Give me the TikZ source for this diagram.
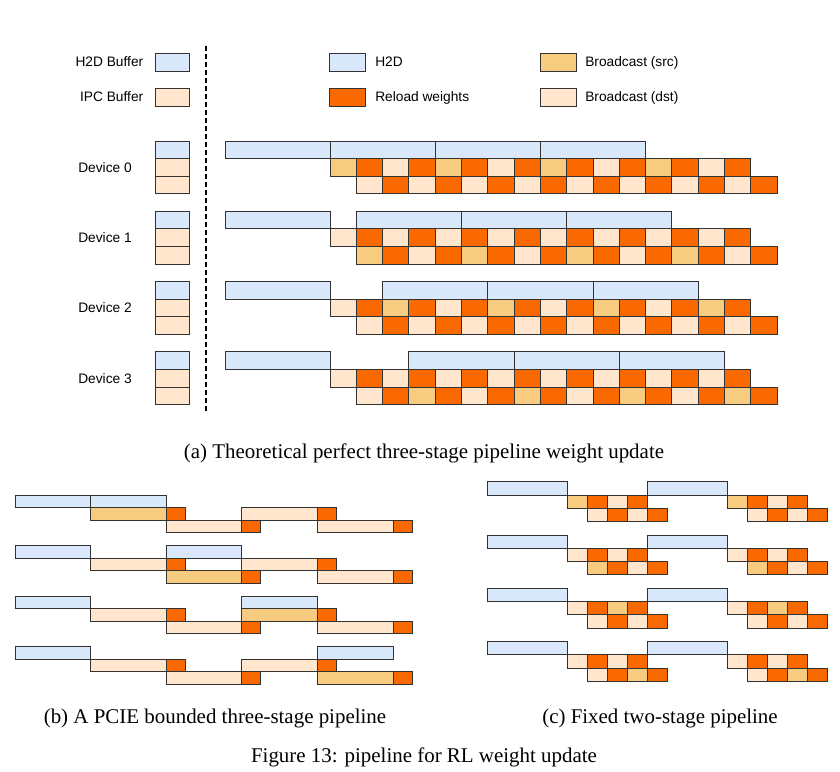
\documentclass[tikz,border=0pt]{standalone}
\usepackage{fontspec}
\setmainfont{Liberation Serif}
\setsansfont{Liberation Sans}
\usepackage{tikz}

\definecolor{hdblue}{HTML}{DAE8FC}
\definecolor{bcsrc}{HTML}{F8CC80}
\definecolor{reload}{HTML}{FA6800}
\definecolor{bcdst}{HTML}{FFE6CC}

\begin{document}
\begin{tikzpicture}[x=0.75pt,y=-0.75pt,
    cell/.style={draw=black!80,line width=0.7pt},
    hd/.style={cell,fill=hdblue},
    bc0/.style={cell,fill=bcdst},
    bc1/.style={cell,fill=bcsrc},
    rw/.style={cell,fill=reload},
    lab/.style={font=\sffamily\fontsize{10.3}{12}\selectfont,inner sep=0pt,text height=7.4pt,text depth=0pt},
    captext/.style={font=\fontsize{15.7}{18}\selectfont,inner sep=0pt}]
\useasboundingbox (0,0) rectangle (840,772);

% legend
\node[lab,anchor=east] (lh2dbuf) at (143.5,62) {H2D Buffer};
\draw[hd] (155.5,53) rectangle (189.5,71);
\node[lab,anchor=east] (lipcbuf) at (143.5,97) {IPC Buffer};
\draw[bc0] (155.5,88.3) rectangle (189.5,106);
\draw[hd] (329.5,53) rectangle (365,71);
\node[lab,anchor=west] (lh2d) at (375,62) {H2D};
\draw[rw] (329.5,88.3) rectangle (365,106);
\node[lab,anchor=west] (lreload) at (375,97) {Reload weights};
\draw[bc1] (540,53) rectangle (576,71);
\node[lab,anchor=west] (lsrc) at (585,62) {Broadcast (src)};
\draw[bc0] (540,88.3) rectangle (576,106);
\node[lab,anchor=west] (ldst) at (585,97) {Broadcast (dst)};

\draw[line width=1.5pt,dash pattern=on 3.4pt off 2.6pt] (206,46) -- (206,412);

% (a) perfect three-stage
\foreach \d in {0,...,3} {
  \pgfmathsetmacro\yt{141+70.3*\d}
  \node[lab] (dev\d) at (105,\yt+26.4) {Device \d};
  \draw[hd] (155.5,\yt) rectangle ++(34,17.6);
  \draw[bc0] (155.5,\yt+17.6) rectangle ++(34,17.6);
  \draw[bc0] (155.5,\yt+35.2) rectangle ++(34,17.6);
  \draw[hd] (225,\yt) rectangle ++(105,17.6);
  \foreach \j in {0,1,2}
    \draw[hd] ({330+26.3*(\d+4*\j)},\yt) rectangle ++(105.2,17.6);
  \foreach \k in {0,...,15} {
    \pgfmathtruncatemacro\rr{mod(\k,2)}
    \pgfmathtruncatemacro\issrc{mod(\k,4)==\d}
    \draw[bc\issrc] ({330+26.3*\k},{\yt+17.6*(\rr+1)}) rectangle ++(26.3,17.6);
    \draw[rw] ({330+26.3*(\k+1)},{\yt+17.6*(\rr+1)}) rectangle ++(26.3,17.6);
  }
}
\node[captext] (capa) at (424,453) {(a) Theoretical perfect three-stage pipeline weight update};

% (b) PCIE bounded
\foreach \d in {0,...,3} {
  \pgfmathsetmacro\yt{495+50.6*\d}
  \draw[hd] (15,\yt) rectangle ++(75.6,12.5);
  \draw[hd] ({15+75.6*(\d+1)},\yt) rectangle ++(75.6,12.5);
  \foreach \k in {1,...,4} {
    \pgfmathtruncatemacro\rr{mod(\k-1,2)}
    \pgfmathtruncatemacro\issrc{(\k-1)==\d}
    \draw[bc\issrc] ({15+75.6*\k},{\yt+12.5*(\rr+1)}) rectangle ++(75.6,12.5);
    \draw[rw] ({15+75.6*(\k+1)},{\yt+12.5*(\rr+1)}) rectangle ++(19,12.5);
  }
}
\node[captext] (capb) at (215,718) {(b) A PCIE bounded three-stage pipeline};

% (c) fixed two-stage
\foreach \d in {0,...,3} {
  \pgfmathsetmacro\yt{481.7+53.3*\d}
  \foreach \g in {0,1} {
    \draw[hd] ({487+160*\g},\yt) rectangle ++(80,13.3);
    \foreach \k in {0,...,3} {
      \pgfmathtruncatemacro\rr{mod(\k,2)}
      \pgfmathtruncatemacro\issrc{\k==\d}
      \draw[bc\issrc] ({487+160*\g+20*(\k+4)},{\yt+13.3*(\rr+1)}) rectangle ++(20,13.3);
      \draw[rw] ({487+160*\g+20*(\k+5)},{\yt+13.3*(\rr+1)}) rectangle ++(20,13.3);
    }
  }
}
\node[captext] (capc) at (660,718) {(c) Fixed two-stage pipeline};

\node[captext] (fig) at (424,757) {Figure 13: pipeline for RL weight update};
\end{tikzpicture}
\end{document}
